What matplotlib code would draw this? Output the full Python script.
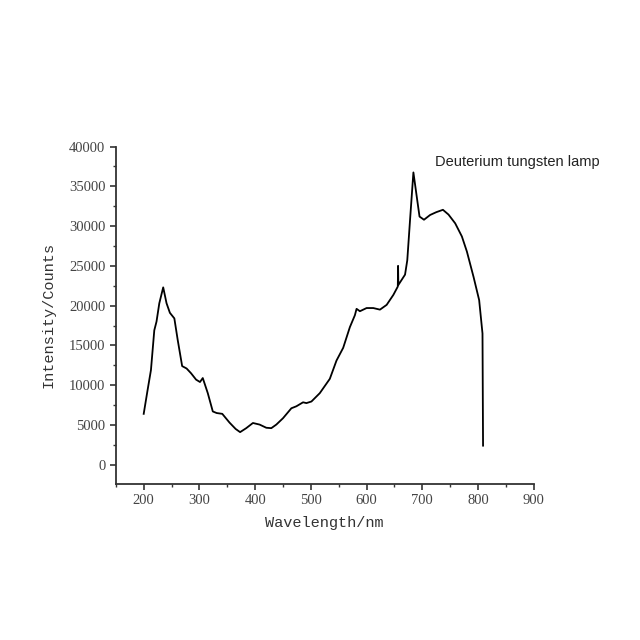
import matplotlib
matplotlib.use("Agg")
import matplotlib.pyplot as plt
from matplotlib.ticker import MultipleLocator

wavelength = [200, 207, 213, 219, 223, 228, 235, 241, 247, 255, 261, 269, 277, 285, 294, 301,
              306, 315, 324, 331, 341, 354, 365, 373, 384, 396, 408, 420, 429, 438, 450, 465,
              474, 486, 492, 501, 516, 534, 546, 558, 570, 579, 582, 588, 600, 612, 624, 636,
              648, 656, 656.5, 657, 669, 673, 678, 684, 691, 695, 703, 714, 725, 737, 747, 759,
              771, 780, 792, 802, 808, 809]
intensity = [6400, 9400, 11900, 16900, 18000, 20300, 22300, 20300, 19100, 18400, 15700, 12400,
             12100, 11500, 10700, 10400, 10900, 9000, 6700, 6500, 6400, 5300, 4500, 4100, 4600,
             5250, 5050, 4650, 4600, 5050, 5850, 7100, 7350, 7850, 7750, 7950, 9000, 10800,
             13100, 14700, 17300, 18800, 19600, 19300, 19700, 19700, 19500, 20100, 21350, 22400,
             25000, 22600, 23900, 25700, 30800, 36750, 33200, 31200, 30800, 31400, 31750, 32050,
             31450, 30350, 28700, 26800, 23600, 20700, 16500, 2400]

xticks = [200, 300, 400, 500, 600, 700, 800, 900]
yticks = [0, 5000, 10000, 15000, 20000, 25000, 30000, 35000, 40000]

fig = plt.figure(figsize=(6.4, 6.4), dpi=100)
ax = fig.add_axes([0.181, 0.244, 0.653, 0.527])
ax.plot(wavelength, intensity, color="black", lw=1.3)

ax.set_xlim(150, 900)
ax.set_ylim(-2400, 40000)
ax.set_xticks(xticks)
ax.set_yticks(yticks)
ax.xaxis.set_minor_locator(MultipleLocator(50))
ax.yaxis.set_minor_locator(MultipleLocator(2500))

for s in ["top", "right"]:
    ax.spines[s].set_visible(False)
for s in ["left", "bottom"]:
    ax.spines[s].set_linewidth(1.3)
    ax.spines[s].set_color("#333333")

ax.tick_params(which="major", direction="out", length=4, width=1.2, color="#333333",
               labelsize=10.5, labelcolor="#444444")
ax.tick_params(which="minor", direction="out", length=2, width=1.0, color="#333333")
for lab in ax.get_xticklabels() + ax.get_yticklabels():
    lab.set_fontfamily("Liberation Serif")

ax.set_xlabel("Wavelength/nm", fontfamily="Liberation Mono", fontsize=11, color="#333333", labelpad=6)
ax.set_ylabel("Intensity/Counts", fontfamily="Liberation Mono", fontsize=11, color="#333333", labelpad=10)

fig.text(435/640, 1 - 162/640, "Deuterium tungsten lamp", fontfamily="Liberation Sans",
         fontsize=10.5, color="#222222", va="center", ha="left")

fig.savefig("out.png", dpi=100, facecolor="white")
